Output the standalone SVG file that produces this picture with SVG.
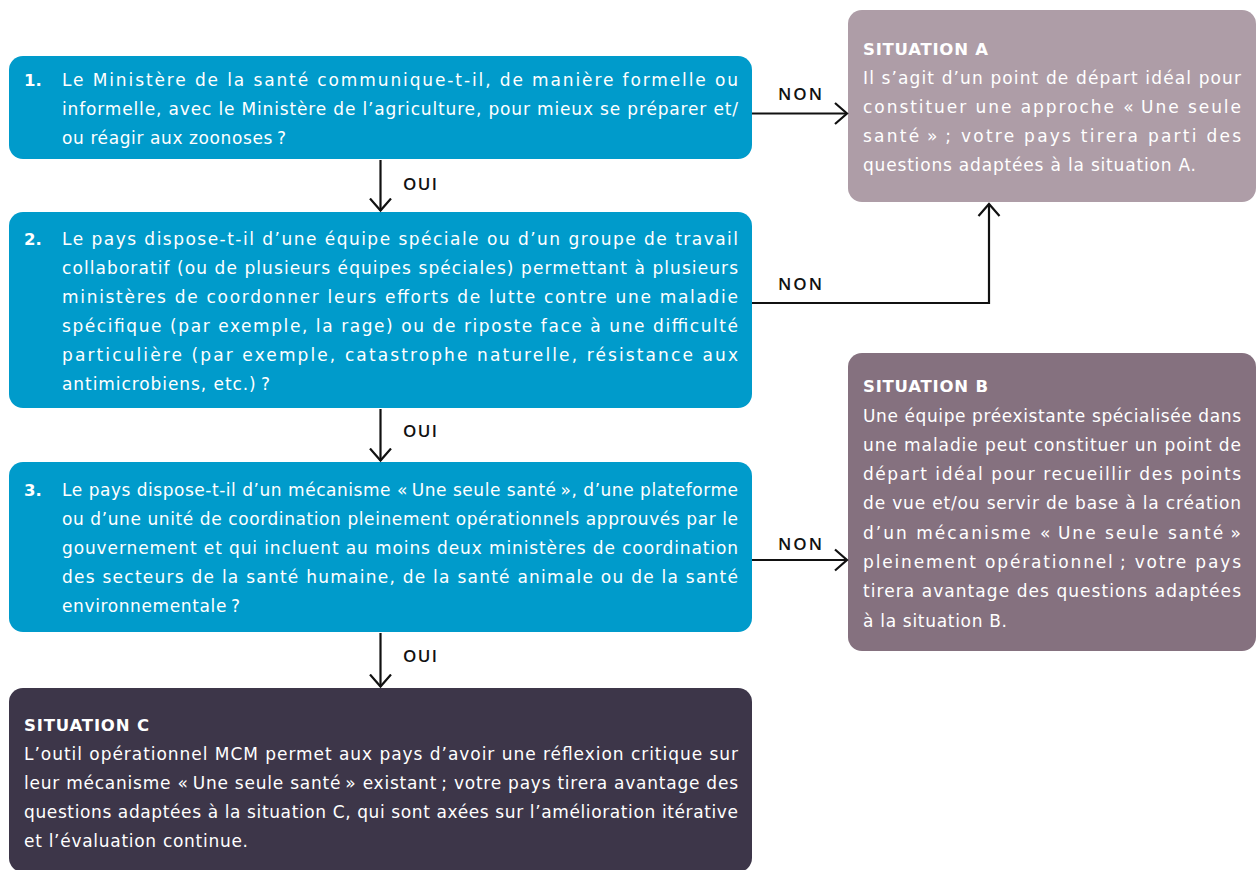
<svg xmlns="http://www.w3.org/2000/svg" width="1257" height="870" viewBox="0 0 1257 870">
<defs>
<marker id="arr" markerUnits="userSpaceOnUse" markerWidth="18" markerHeight="28" refX="13" refY="12" orient="auto">
<path d="M1,1.5 L13,12 L1,22.5" fill="none" stroke="#111" stroke-width="2.2" stroke-linejoin="miter"/>
</marker>
<style>
.q{fill:#009bcb}
.sa{fill:#ae9da7}
.sb{fill:#85717f}
.sc{fill:#3d3649}
.t{font-family:"DejaVu Sans","Open Sans",sans-serif;font-size:17px;fill:#fff}
.b{font-weight:700;font-size:16.5px}
.lbl{font-family:"Open Sans","DejaVu Sans",sans-serif;font-size:17px;font-weight:600;fill:#111}
.con{fill:none;stroke:#111;stroke-width:2.2}
</style>
</defs>
<rect width="1257" height="870" fill="#fff"/>

<g id="q1">
<rect class="q" x="9" y="56" width="743" height="103" rx="14"/>
<text class="t b" x="24" y="86">1.</text>
<text class="t" x="62" y="86" textLength="676" lengthAdjust="spacing">Le Ministère de la santé communique-t-il, de manière formelle ou</text>
<text class="t" x="62" y="115" textLength="676" lengthAdjust="spacing">informelle, avec le Ministère de l’agriculture, pour mieux se préparer et/</text>
<text class="t" x="62" y="144" textLength="224" lengthAdjust="spacing">ou réagir aux zoonoses&#8239;?</text>
</g>

<g id="q2">
<rect class="q" x="9" y="212" width="743" height="196" rx="14"/>
<text class="t b" x="24" y="245">2.</text>
<text class="t" x="62" y="245" textLength="676" lengthAdjust="spacing">Le pays dispose-t-il d’une équipe spéciale ou d’un groupe de travail</text>
<text class="t" x="62" y="274" textLength="676" lengthAdjust="spacing">collaboratif (ou de plusieurs équipes spéciales) permettant à plusieurs</text>
<text class="t" x="62" y="303" textLength="676" lengthAdjust="spacing">ministères de coordonner leurs efforts de lutte contre une maladie</text>
<text class="t" x="62" y="332" textLength="676" lengthAdjust="spacing">spécifique (par exemple, la rage) ou de riposte face à une difficulté</text>
<text class="t" x="62" y="361" textLength="676" lengthAdjust="spacing">particulière (par exemple, catastrophe naturelle, résistance aux</text>
<text class="t" x="62" y="390" textLength="208" lengthAdjust="spacing">antimicrobiens, etc.)&#8239;?</text>
</g>

<g id="q3">
<rect class="q" x="9" y="462" width="743" height="170" rx="14"/>
<text class="t b" x="24" y="496">3.</text>
<text class="t" x="62" y="496" textLength="676" lengthAdjust="spacing">Le pays dispose-t-il d’un mécanisme «&#8239;Une seule santé&#8239;», d’une plateforme</text>
<text class="t" x="62" y="525" textLength="676" lengthAdjust="spacing">ou d’une unité de coordination pleinement opérationnels approuvés par le</text>
<text class="t" x="62" y="554" textLength="676" lengthAdjust="spacing">gouvernement et qui incluent au moins deux ministères de coordination</text>
<text class="t" x="62" y="583" textLength="676" lengthAdjust="spacing">des secteurs de la santé humaine, de la santé animale ou de la santé</text>
<text class="t" x="62" y="612" textLength="178" lengthAdjust="spacing">environnementale&#8239;?</text>
</g>

<g id="sitC">
<rect class="sc" x="9" y="688" width="743" height="184" rx="14"/>
<text class="t b" x="24" y="731" textLength="125" lengthAdjust="spacing">SITUATION C</text>
<text class="t" x="24" y="760" textLength="714" lengthAdjust="spacing">L’outil opérationnel MCM permet aux pays d’avoir une réflexion critique sur</text>
<text class="t" x="24" y="789" textLength="714" lengthAdjust="spacing">leur mécanisme «&#8239;Une seule santé&#8239;» existant&#8239;; votre pays tirera avantage des</text>
<text class="t" x="24" y="818" textLength="714" lengthAdjust="spacing">questions adaptées à la situation C, qui sont axées sur l’amélioration itérative</text>
<text class="t" x="24" y="847" textLength="224" lengthAdjust="spacing">et l’évaluation continue.</text>
</g>

<g id="sitA">
<rect class="sa" x="848" y="10" width="408" height="192" rx="14"/>
<text class="t b" x="863" y="55" textLength="125" lengthAdjust="spacing">SITUATION A</text>
<text class="t" x="863" y="84" textLength="378" lengthAdjust="spacing">Il s’agit d’un point de départ idéal pour</text>
<text class="t" x="863" y="113" textLength="378" lengthAdjust="spacing">constituer une approche «&#8239;Une seule</text>
<text class="t" x="863" y="142" textLength="378" lengthAdjust="spacing">santé&#8239;»&#8239;; votre pays tirera parti des</text>
<text class="t" x="863" y="171" textLength="333" lengthAdjust="spacing">questions adaptées à la situation A.</text>
</g>

<g id="sitB">
<rect class="sb" x="848" y="353" width="408" height="298" rx="14"/>
<text class="t b" x="863" y="392" textLength="125" lengthAdjust="spacing">SITUATION B</text>
<text class="t" x="863" y="421.5" textLength="378" lengthAdjust="spacing">Une équipe préexistante spécialisée dans</text>
<text class="t" x="863" y="450.8" textLength="378" lengthAdjust="spacing">une maladie peut constituer un point de</text>
<text class="t" x="863" y="480.1" textLength="378" lengthAdjust="spacing">départ idéal pour recueillir des points</text>
<text class="t" x="863" y="509.4" textLength="378" lengthAdjust="spacing">de vue et/ou servir de base à la création</text>
<text class="t" x="863" y="538.7" textLength="378" lengthAdjust="spacing">d’un mécanisme «&#8239;Une seule santé&#8239;»</text>
<text class="t" x="863" y="568" textLength="378" lengthAdjust="spacing">pleinement opérationnel&#8239;; votre pays</text>
<text class="t" x="863" y="597.3" textLength="378" lengthAdjust="spacing">tirera avantage des questions adaptées</text>
<text class="t" x="863" y="626.6" textLength="144" lengthAdjust="spacing">à la situation B.</text>
</g>

<g id="connectors">
<path class="con" d="M380.5,160 V210.5" marker-end="url(#arr)"/>
<path class="con" d="M380.5,409 V460.5" marker-end="url(#arr)"/>
<path class="con" d="M380.5,633 V686.5" marker-end="url(#arr)"/>
<path class="con" d="M752,113.5 H847" marker-end="url(#arr)"/>
<path class="con" d="M752,303 H989 V204" marker-end="url(#arr)"/>
<path class="con" d="M752,560 H847" marker-end="url(#arr)"/>
<text class="lbl" x="403" y="189.5" textLength="34" lengthAdjust="spacing">OUI</text>
<text class="lbl" x="403" y="436.5" textLength="34" lengthAdjust="spacing">OUI</text>
<text class="lbl" x="403" y="662" textLength="34" lengthAdjust="spacing">OUI</text>
<text class="lbl" x="778" y="99.5" textLength="44" lengthAdjust="spacing">NON</text>
<text class="lbl" x="778" y="289.5" textLength="44" lengthAdjust="spacing">NON</text>
<text class="lbl" x="778" y="550" textLength="44" lengthAdjust="spacing">NON</text>
</g>
</svg>
